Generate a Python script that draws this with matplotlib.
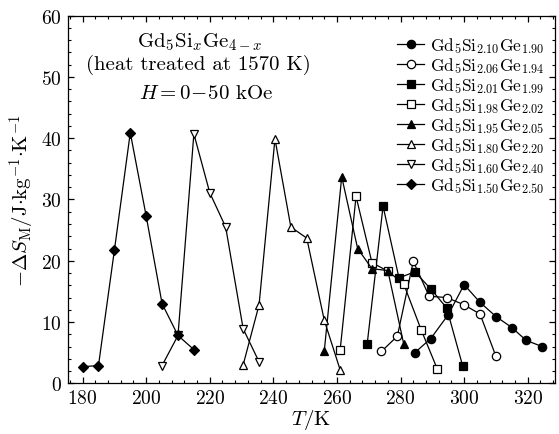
import numpy as np
import matplotlib
matplotlib.use('Agg')
import matplotlib.pyplot as plt
from matplotlib.ticker import MultipleLocator

plt.rcParams['font.family'] = 'serif'
plt.rcParams['font.serif'] = ['cmr10']
plt.rcParams['mathtext.fontset'] = 'cm'
plt.rcParams['axes.formatter.use_mathtext'] = True

#%% data
T_210 = [284.5, 289.5, 295, 300, 305, 310, 315, 319.5, 324.5]
S_210 = [5.0, 7.3, 11.2, 16.1, 13.2, 10.9, 9.1, 7.0, 6.0]

T_206 = [274, 279, 284, 289, 294.5, 300, 305, 310]
S_206 = [5.2, 7.7, 19.9, 14.2, 14.0, 12.8, 11.3, 4.4]

T_201 = [269.5, 274.5, 279.5, 284.5, 289.5, 294.5, 299.5]
S_201 = [6.4, 28.9, 17.2, 18.2, 15.4, 12.3, 2.9]

T_198 = [261, 266, 271, 276, 281, 286.5, 291.5]
S_198 = [5.4, 30.5, 19.7, 18.3, 16.2, 8.7, 2.4]

T_195 = [256, 261.5, 266.5, 271, 276, 281]
S_195 = [5.2, 33.7, 22.0, 18.7, 18.4, 6.4]

T_180 = [230.5, 235.5, 240.5, 245.5, 250.5, 256, 261]
S_180 = [3.0, 12.8, 39.9, 25.5, 23.7, 10.3, 2.2]

T_160 = [205, 210, 215, 220, 225, 230.5, 235.5]
S_160 = [2.9, 7.8, 40.7, 31.1, 25.5, 8.9, 3.5]

T_150 = [180, 185, 190, 195, 200, 205, 210, 215]
S_150 = [2.7, 2.9, 21.7, 40.9, 27.3, 13.0, 7.8, 5.5]

labels = [r'Gd$_5$Si$_{2.10}$Ge$_{1.90}$', r'Gd$_5$Si$_{2.06}$Ge$_{1.94}$',
          r'Gd$_5$Si$_{2.01}$Ge$_{1.99}$', r'Gd$_5$Si$_{1.98}$Ge$_{2.02}$',
          r'Gd$_5$Si$_{1.95}$Ge$_{2.05}$', r'Gd$_5$Si$_{1.80}$Ge$_{2.20}$',
          r'Gd$_5$Si$_{1.60}$Ge$_{2.40}$', r'Gd$_5$Si$_{1.50}$Ge$_{2.50}$']

#%% plot
fig = plt.figure(figsize=(5.59, 4.35), dpi=100)
ax = fig.add_axes([0.121, 0.1166, 0.872, 0.845])

series = [(T_210, S_210, 'o', 'k'), (T_206, S_206, 'o', 'w'),
          (T_201, S_201, 's', 'k'), (T_198, S_198, 's', 'w'),
          (T_195, S_195, '^', 'k'), (T_180, S_180, '^', 'w'),
          (T_160, S_160, 'v', 'w'), (T_150, S_150, 'D', 'k')]
msize = {'o': 6, 's': 5.2, '^': 6.3, 'v': 6.3, 'D': 5.0}
for (T, S, m, fc), lab in zip(series, labels):
    ax.plot(T, S, '-', color='k', lw=0.9, marker=m, ms=msize[m], mfc=fc, mec='k',
            mew=0.9, label=lab)

ax.set_xlim(175.3, 328.6)
ax.set_ylim(0, 60)
ax.xaxis.set_major_locator(MultipleLocator(20))
ax.xaxis.set_minor_locator(MultipleLocator(4))
ax.yaxis.set_major_locator(MultipleLocator(10))
ax.yaxis.set_minor_locator(MultipleLocator(2))
ax.tick_params(which='both', direction='in', top=True, right=True, labelsize=14)
ax.tick_params(which='major', length=4.5, width=0.9, pad=4)
ax.tick_params(which='minor', length=2.5, width=0.8)
for sp in ax.spines.values():
    sp.set_linewidth(0.9)

ax.set_xlabel(r'$T$/K', fontsize=15, labelpad=0)
ax.set_ylabel(r'$-\Delta S_{\rm M}$/J$\cdot$kg$^{-1}$$\cdot$K$^{-1}$', fontsize=15, labelpad=3)

ax.text(216.9, 55.9, r'Gd$_5$Si$_x$Ge$_{4-x}$', ha='center', va='center', fontsize=15)
ax.text(216.3, 52.2, '(heat treated at 1570 K)', ha='center', va='center', fontsize=15)
ax.text(218.8, 47.4, r'$H=0\!-\!50$ kOe', ha='center', va='center', fontsize=15)

ax.legend(loc='upper right', bbox_to_anchor=(1.0, 0.975), frameon=False,
          fontsize=12.5, handlelength=1.55, handletextpad=0.35,
          labelspacing=0.0, borderaxespad=0.2)

fig.savefig('out.png', dpi=100)
